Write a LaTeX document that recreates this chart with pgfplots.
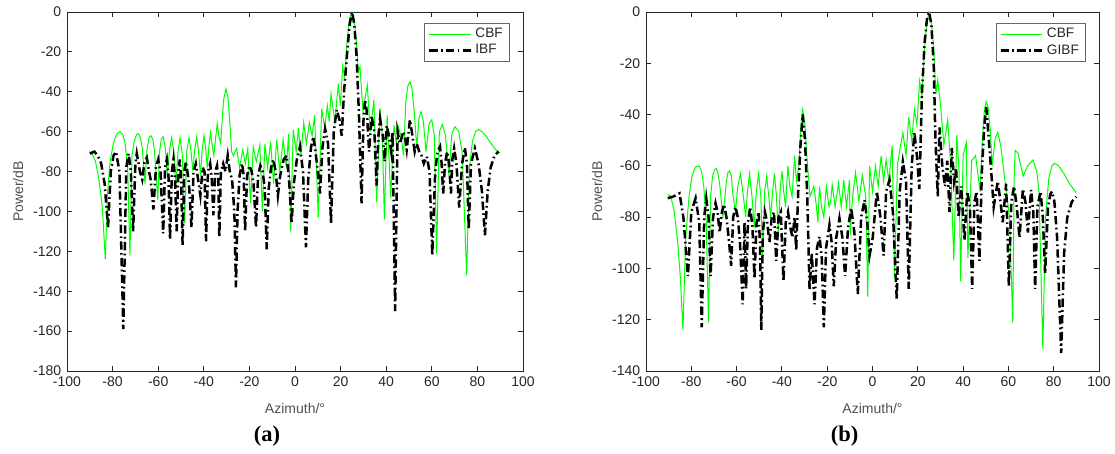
\documentclass[border=0pt]{standalone}
\usepackage{pgfplots}
\pgfplotsset{compat=1.18}
\usepackage{fontspec}
\setmainfont{Liberation Sans}
\newfontfamily\capfont{Liberation Serif}
\definecolor{cbf}{RGB}{0,255,0}
\definecolor{axgray}{RGB}{38,38,38}
\definecolor{labgray}{RGB}{80,80,80}

\pgfplotsset{
  beam/.style={
    scale only axis, height=215.4pt, anchor=south west,
    xmin=-100, xmax=100, xtick={-100,-80,...,100}, ymax=0,
    tick align=inside, major tick length=3pt,
    axis line style={axgray, line width=0.5pt},
    every tick/.style={axgray, line width=0.5pt},
    ticklabel style={font=\fontsize{8.4}{10}\selectfont, text=axgray},
    /pgf/number format/assume math mode=true,
    every axis y label/.style={at={(rel axis cs:0,0.5)}, xshift=-29.4pt, rotate=90, anchor=center, text=labgray, font=\fontsize{8.4}{10}\selectfont},
    every axis x label/.style={at={(rel axis cs:0.5,0)}, yshift=-22.2pt, anchor=center, text=labgray, font=\fontsize{8.4}{10}\selectfont},
    xlabel={Azimuth/°}, ylabel={Power/dB},
    legend style={at={(0.9715,0.97)}, anchor=north east, draw=black!60, line width=0.7pt,
      font=\fontsize{8.2}{9}\selectfont, inner xsep=2pt, inner ysep=1pt, row sep=-1.5pt,
      text=axgray},
    legend cell align=left,
    legend image code/.code={\draw[#1] (0pt,0pt) -- (25pt,0pt);},
  },
  cbfline/.style={cbf, line width=0.6pt, mark=none},
  ibfline/.style={black, line width=1.5pt, mark=none, dash pattern=on 5pt off 2pt on 1pt off 2pt},
}

\begin{document}
\begin{tikzpicture}
\useasboundingbox (0,0) rectangle (669pt,272.4pt);

% ---------------- (a) ----------------
\begin{axis}[beam, name=pa, at={(40.2pt,49.8pt)}, width=273.6pt, ymin=-180, ytick={-180,-160,...,0}]
\addplot[cbfline] coordinates {
(-90.2,-70) (-89,-71) (-87.5,-75) (-86,-84) (-84.5,-98) (-83.2,-124) (-82.2,-90) (-81,-74)
(-79.5,-65) (-78,-61) (-76.8,-60) (-75.5,-61.5) (-74.5,-66) (-73.4,-78) (-72.4,-122) (-71.5,-72)
(-70.5,-65) (-69.5,-61.5) (-68.7,-61) (-67.8,-63) (-67,-68) (-65.8,-86) (-64.9,-69) (-64,-63)
(-63.2,-62) (-62.3,-64) (-61.6,-70) (-60.2,-94) (-59.4,-70) (-58.6,-63.5) (-57.8,-62.5) (-56.9,-68)
(-56,-82) (-55,-69) (-54.1,-63) (-53.1,-70) (-52.3,-88) (-51.3,-70) (-50.4,-63) (-49.4,-72)
(-48.4,-106) (-47.5,-70) (-46.5,-63) (-45.6,-70) (-44.8,-80) (-44,-69) (-43.1,-62.5) (-42.3,-70)
(-41.5,-82) (-40.7,-69) (-39.9,-62) (-39.2,-68) (-38.5,-78) (-37.8,-68) (-37.1,-60.5) (-36.4,-66)
(-35.6,-72) (-34.9,-64) (-34.1,-56) (-33.4,-62) (-32.6,-66) (-32,-55) (-31.3,-44) (-30.3,-38.5)
(-29.4,-43) (-28.6,-55) (-27.8,-70) (-27,-72) (-26.3,-70) (-25.6,-68.4) (-24.3,-78) (-22.9,-69)
(-21.8,-76) (-20.7,-68.4) (-19.5,-96) (-18.3,-67.6) (-17,-75) (-15.4,-66.7) (-14.3,-100) (-13.2,-66)
(-12,-78) (-10.7,-65) (-9.4,-86) (-8,-64) (-6.7,-80) (-5.2,-64) (-3.8,-78) (-2.8,-61)
(-1.9,-110) (-0.8,-59) (0.5,-70) (1.5,-58.3) (2.6,-72) (3.8,-55.5) (5,-66) (6.3,-55.5)
(7.5,-62) (8.6,-51.7) (10.2,-103) (11.7,-48.5) (13,-58) (14.2,-47) (15,-55) (15.8,-41)
(17.5,-55) (19,-36) (19.9,-47) (20.9,-27) (21.8,-33) (23,-12) (24,-3) (25,0)
(26,-4) (27,-16) (27.8,-30) (28.5,-27.4) (29.8,-50) (31.7,-36.6) (33,-60) (34.6,-44)
(35.8,-95.5) (37.3,-48.3) (38.3,-62) (39.2,-104) (40.4,-51.7) (42,-93) (43.4,-56.7) (44.4,-66)
(45.3,-57.5) (46.5,-62) (47.6,-72) (48.6,-45) (49.5,-37) (50.4,-35) (51.3,-38) (52.3,-50)
(53.4,-68) (54.4,-53) (55.3,-50) (56.3,-55) (57.5,-70) (58.8,-56) (60,-54) (61.1,-62)
(62.1,-121) (63.3,-60) (64.6,-56.4) (66,-62) (67.5,-82) (68.8,-61) (70.2,-57.5) (71.8,-60)
(73.3,-70) (75.3,-132) (76.5,-78) (77.8,-65) (79.2,-60) (80.4,-59) (82,-60) (84,-62.5)
(86,-66) (88,-69) (89.9,-70.5)
};
\addlegendentry{CBF}
\addplot[ibfline] coordinates {
(-90,-71) (-88,-70) (-86.5,-72) (-85,-76) (-83.5,-86) (-82,-108) (-80.8,-80) (-79.6,-72)
(-78.5,-70) (-77,-80) (-75.3,-159) (-74,-78) (-73,-71) (-72,-80) (-71,-110) (-70,-76)
(-69.4,-71) (-68,-80) (-67,-84) (-66,-75) (-65,-73) (-64,-80) (-63.3,-84) (-62.1,-99)
(-61,-78) (-60,-74) (-59,-80) (-57.8,-111) (-57,-78) (-56.2,-74) (-55.5,-82) (-54.8,-114)
(-54,-80) (-53.3,-74) (-52.6,-84) (-51.9,-110) (-51.2,-80) (-50.5,-74) (-49.9,-86) (-49.3,-117)
(-48.6,-80) (-47.8,-75) (-46.5,-86) (-45.4,-108) (-44.5,-80) (-43.5,-76) (-42.5,-84) (-41.5,-92)
(-40.5,-78) (-39.7,-80) (-39,-115) (-38.2,-80) (-37.2,-76) (-36.5,-84) (-35.8,-102) (-35,-80)
(-34.2,-77) (-33.6,-84) (-33.2,-113) (-32.5,-80) (-31.5,-76) (-30.5,-80) (-29.5,-72) (-28.6,-80)
(-27.6,-84) (-26.6,-100) (-25.9,-138) (-25.2,-100) (-24.3,-82) (-23.2,-76) (-22.5,-82) (-21.9,-110)
(-21,-82) (-20,-77) (-19,-80) (-18.2,-86) (-17.1,-108) (-16.2,-82) (-15.2,-77) (-14.2,-80)
(-13.3,-88) (-12.4,-119) (-11.5,-88) (-10.5,-78) (-9.5,-74) (-8.5,-80) (-7.5,-92) (-6.5,-82)
(-5,-74) (-3.7,-72) (-2.6,-84) (-1.5,-106) (-0.5,-86) (0.8,-74) (2.2,-67.6) (3.5,-80)
(4.8,-118) (5.8,-84) (7,-68) (8,-62.5) (9,-70) (10,-80) (11,-91) (12,-68)
(13.2,-58.5) (14.5,-66) (15.8,-106) (17,-60) (18.3,-49) (19.5,-54) (20.5,-62) (21.5,-40)
(22.9,-20) (24,-6) (25,0) (26,-6) (27,-22) (28,-50) (29.2,-96) (30,-55)
(30.7,-44) (31.5,-50) (32.5,-70) (33.6,-52) (34.8,-60) (35.8,-87) (36.6,-62) (37.3,-53.5)
(38.5,-62) (39.3,-75) (40.2,-57) (41.2,-62) (42.2,-70) (42.8,-60) (43.9,-150) (45,-60)
(46,-66) (47.5,-60) (48.4,-64) (49,-69) (50.4,-54) (51.5,-62) (52.5,-70) (53.4,-66)
(54.5,-70) (55.5,-72) (56.5,-76) (57.8,-72.5) (59,-80) (60.2,-122) (61.5,-80) (62.5,-70)
(63.6,-67.5) (64.3,-76) (65,-91) (65.8,-76) (66.7,-70) (67.5,-75) (68.4,-91) (69,-74)
(69.8,-68.4) (70.8,-76) (72,-98) (73.3,-76) (74.5,-68) (75.4,-76) (76.2,-109) (77.2,-76)
(78.9,-68.4) (80.5,-76) (82,-90) (83.3,-112) (84.5,-90) (85.8,-78) (87.5,-72) (89.2,-70)
};
\addlegendentry{IBF}
\end{axis}
\node[font=\capfont\bfseries\fontsize{13.5}{15}\selectfont, text=black] at ([xshift=-16.8pt,yshift=-38.8pt]pa.south) {(a)};

% ---------------- (b) ----------------
\begin{axis}[beam, name=pb, at={(387.6pt,49.8pt)}, width=271.8pt, ymin=-140, ytick={-140,-120,...,0}]
\addplot[cbfline] coordinates {
(-90.4,-71) (-89,-72) (-87.5,-78) (-86,-90) (-84.8,-104) (-83.7,-124) (-82.5,-88) (-81,-72)
(-79.7,-64) (-78.2,-60.5) (-76.6,-60) (-75.5,-62) (-74.5,-68) (-73.4,-82) (-72.4,-121) (-71.5,-72)
(-70.6,-64) (-69.8,-61.5) (-69,-61) (-68.2,-63) (-67.5,-67) (-66,-80) (-64.5,-66) (-63.8,-62.5)
(-63.1,-62) (-62.3,-64) (-61.8,-70) (-60.5,-78) (-59.5,-68) (-58.3,-63) (-57,-72) (-56,-80)
(-55.2,-70) (-54.3,-63) (-53.2,-72) (-52.2,-84) (-51.3,-70) (-50.3,-63) (-49.3,-72) (-48.5,-96)
(-47.6,-70) (-46.7,-64) (-45.8,-72) (-45,-80) (-44.1,-70) (-43.3,-63) (-42.4,-72) (-41.6,-86)
(-40.8,-70) (-40,-62) (-39.2,-70) (-38.4,-76) (-37.4,-60) (-36.5,-68) (-35.5,-72) (-34.4,-56)
(-33.6,-66) (-32.5,-60) (-31.6,-44) (-30.8,-38) (-29.8,-44) (-29,-56) (-27.6,-72) (-26.8,-70)
(-25.9,-68) (-25,-74) (-24.1,-82) (-23.4,-68) (-22.5,-76) (-21.5,-80) (-20.4,-68) (-19.2,-76)
(-18.5,-74) (-17.8,-67.4) (-16.5,-76) (-15,-66.7) (-13.8,-76) (-12.7,-65.6) (-11.5,-76) (-10.2,-65.6)
(-9.8,-87) (-8.8,-72) (-7.5,-62.6) (-6,-74) (-4.5,-63.6) (-3,-72) (-2.1,-111) (-1.3,-60)
(0,-70) (1.3,-60) (2.5,-68) (3.8,-56) (4.9,-66) (6,-57.6) (7.2,-66) (8.7,-52)
(9.7,-104) (11,-60) (12,-54) (13.4,-47) (14.8,-56) (16,-41) (17.3,-50) (18.5,-38)
(19.6,-44) (20.8,-27) (21.8,-33) (23,-14) (24,-4) (25,0) (26,-4) (27,-14)
(28,-32) (28.8,-26.5) (30,-36) (31.5,-52) (33.2,-42) (34.5,-60) (35.9,-97) (37.2,-48)
(38.2,-62) (38.9,-105) (40,-56) (41.4,-51) (42.1,-96) (43.8,-58) (45.5,-56) (47.5,-70)
(48.5,-50) (49.4,-38) (50.2,-35) (51,-37) (52,-46) (52.8,-60) (54.2,-49) (55.3,-47)
(56.6,-52) (58.5,-66) (60.5,-80) (61.9,-121) (62.6,-62) (63,-54) (64.2,-55) (66.5,-64)
(68.5,-60) (70.8,-57.7) (72.5,-62) (73.5,-70) (75.2,-131.5) (76.4,-80) (77.8,-65) (79.2,-60)
(80.4,-59) (82.2,-60) (84.5,-63) (87,-67) (89.9,-70.4)
};
\addlegendentry{CBF}
\addplot[ibfline] coordinates {
(-90.4,-72.6) (-88,-72) (-85.2,-70.7) (-83.5,-80) (-81.5,-103) (-80,-78) (-78.1,-72.6) (-76.5,-82)
(-75.4,-123) (-74.3,-80) (-73.4,-72.6) (-72.4,-80) (-71.5,-103) (-70.4,-80) (-69.3,-74.6) (-68.4,-78)
(-67.5,-86) (-66.5,-78) (-65.5,-75) (-64.5,-80) (-63.5,-88) (-62.4,-99) (-61.5,-80) (-60.5,-76)
(-59.5,-80) (-58.5,-90) (-57.3,-114) (-56.5,-82) (-55.8,-108) (-55,-82) (-54,-76) (-53,-84)
(-52.1,-104) (-51.2,-82) (-50.3,-78) (-49.7,-90) (-49.1,-124) (-48.4,-86) (-47.5,-78) (-46.5,-82)
(-45.5,-90) (-44.5,-80) (-43.5,-78) (-42.5,-97) (-41.5,-80) (-40.5,-78) (-39.3,-105) (-38.3,-82)
(-37.3,-78) (-36.3,-84) (-35.3,-88) (-34.4,-80) (-33.7,-93) (-32.8,-70) (-31.8,-52) (-30.8,-40)
(-29.8,-50) (-28.8,-72) (-27.8,-108) (-26.8,-94) (-25.6,-114) (-24.5,-92) (-23.4,-87.6) (-22.4,-96)
(-21.5,-123) (-20.5,-92) (-19,-83) (-18,-90) (-17.1,-107) (-16,-88) (-14.6,-80.4) (-13.3,-88)
(-12.1,-103) (-10.8,-84) (-9.4,-76.5) (-8,-86) (-6.5,-110) (-5,-80) (-3.5,-73.3) (-2.3,-82)
(-1.3,-95) (0.1,-88) (1.9,-70) (3.5,-80) (4.9,-95) (6,-70) (7.5,-65.5) (9,-78)
(10.7,-112) (12,-70) (13.4,-58.4) (14.8,-66) (16,-108) (17.3,-60) (18.5,-47) (19.6,-56)
(20.7,-69) (21.8,-32) (23,-12) (24,-3) (25,0) (26,-5) (27,-20) (27.8,-50)
(28.8,-72) (29.6,-45) (30.8,-60) (32,-68) (33,-58) (34,-78) (35,-53) (36,-66)
(36.9,-61) (38,-80) (39.2,-68) (40.6,-89) (41.8,-70) (43,-76) (44,-108) (45,-74)
(46,-70) (47.2,-97) (48.3,-62) (49.3,-45) (50.2,-37) (51.2,-48) (52.4,-62) (53.5,-76)
(55.3,-66) (56.5,-74) (57.5,-82) (59,-67) (60.2,-107) (61.3,-74) (62.5,-68) (63.7,-76)
(64.9,-88) (66.4,-69) (67.5,-74) (68.6,-86) (70,-69.4) (71,-78) (71.8,-108) (72.8,-76)
(74.2,-70) (75.2,-80) (76.2,-102) (77.5,-76) (78.5,-71) (79.3,-70) (80.3,-74) (81.5,-88)
(83.3,-133) (84.6,-94) (86,-80) (88,-74) (89.9,-72)
};
\addlegendentry{GIBF}
\end{axis}
\node[font=\capfont\bfseries\fontsize{13.5}{15}\selectfont, text=black] at ([xshift=-16.8pt,yshift=-38.8pt]pb.south) {(b)};
\end{tikzpicture}
\end{document}
